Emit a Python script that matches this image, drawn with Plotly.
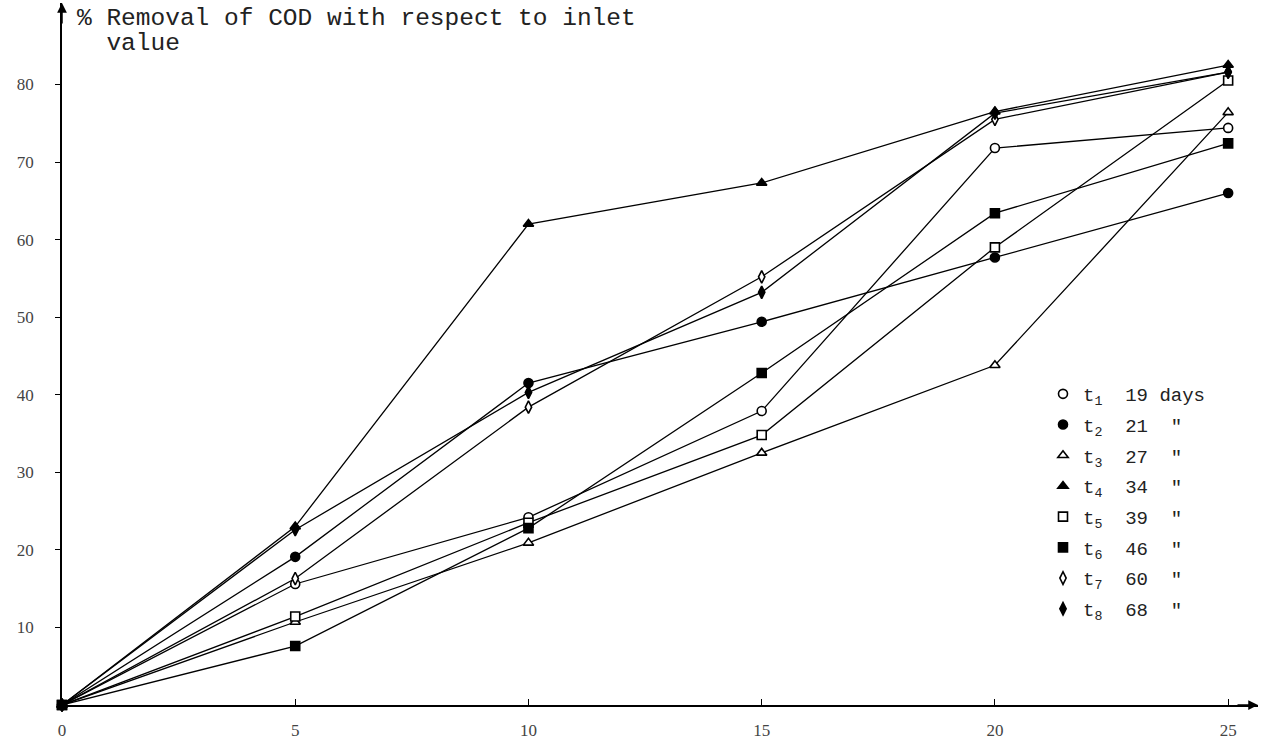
import plotly.graph_objects as go

days = [0, 5, 10, 15, 20, 25]
t1 = [0, 15.6, 24.2, 37.9, 71.8, 74.4]
t2 = [0, 19.1, 41.5, 49.4, 57.7, 66.0]
t3 = [0, 10.7, 20.9, 32.5, 43.8, 76.4]
t4 = [0, 23.0, 62.0, 67.3, 76.5, 82.5]
t5 = [0, 11.4, 23.5, 34.8, 59.0, 80.5]
t6 = [0, 7.6, 22.8, 42.8, 63.4, 72.4]
t7 = [0, 16.3, 38.4, 55.2, 75.5, 81.6]
t8 = [0, 22.6, 40.3, 53.2, 76.3, 81.6]

series = [t1, t2, t3, t4, t5, t6, t7, t8]
labels = ["t<sub>1</sub>", "t<sub>2</sub>", "t<sub>3</sub>", "t<sub>4</sub>",
          "t<sub>5</sub>", "t<sub>6</sub>", "t<sub>7</sub>", "t<sub>8</sub>"]
retention = ["19", "21", "27", "34", "39", "46", "60", "68"]
units = ["days", '"', '"', '"', '"', '"', '"', '"']
symbols = ["circle", "circle", "triangle-up", "triangle-up",
           "square", "square", "diamond-tall", "diamond-tall"]
filled = [False, True, False, True, False, True, False, True]

xticks = [0, 5, 10, 15, 20, 25]
yticks = [10, 20, 30, 40, 50, 60, 70, 80]

NB = "\u00a0"


def marker(i):
    return dict(symbol=symbols[i], size=9,
                color="black" if filled[i] else "white",
                line=dict(color="black", width=1.6))


fig = go.Figure()
for i, ys in enumerate(series):
    fig.add_trace(go.Scatter(
        x=days, y=ys, mode="lines+markers",
        line=dict(color="black", width=1.3),
        marker=marker(i), showlegend=False, cliponaxis=False,
    ))

for i in range(len(series)):
    if i == 0:
        name = labels[i] + NB * 2 + retention[i] + NB + units[i]
    else:
        name = labels[i] + NB * 2 + retention[i] + NB * 2 + units[i]
    fig.add_trace(go.Scatter(
        x=[None], y=[None], mode="markers", name=name,
        legendgroup=f"g{i}", marker=marker(i),
    ))

W, H = 1266, 746
L, R, T, B = 62, 8, 3, 41
PW, PH = W - L - R, H - T - B


def px(xp):
    return (xp - L) / PW


def py(yp):
    return 1 - (yp - T) / PH


fig.update_layout(
    width=W, height=H,
    margin=dict(l=L, r=R, t=T, b=B),
    paper_bgcolor="white", plot_bgcolor="white",
    showlegend=True,
    legend=dict(x=px(1043), y=py(375), xanchor="left", yanchor="top",
                bgcolor="rgba(0,0,0,0)", tracegroupgap=3,
                font=dict(family="Liberation Mono", size=19, color="#222"),
                itemwidth=30),
    xaxis=dict(range=[0, 25.64], tickvals=xticks, ticktext=[str(v) for v in xticks],
               showgrid=False, zeroline=False, showline=True, linecolor="black",
               linewidth=1.5, ticks="inside", ticklen=6, tickcolor="black",
               ticklabelstandoff=9,
               tickfont=dict(family="Liberation Serif", size=17, color="#444")),
    yaxis=dict(range=[0, 90.5], tickvals=yticks, ticktext=[str(v) for v in yticks],
               showgrid=False, zeroline=False, showline=True, linecolor="black",
               linewidth=1.5, ticks="outside", ticklen=5, tickcolor="black",
               ticklabelstandoff=18,
               tickfont=dict(family="Liberation Serif", size=17, color="#444")),
    annotations=[
        dict(xref="paper", yref="paper", x=0, y=1, ax=0, ay=22, text="",
             showarrow=True, arrowhead=2, arrowsize=1.3, arrowwidth=1.5, arrowcolor="black"),
        dict(xref="paper", yref="paper", x=1, y=0, ax=-22, ay=0, text="",
             showarrow=True, arrowhead=2, arrowsize=1.3, arrowwidth=1.5, arrowcolor="black"),
        dict(xref="paper", yref="paper", x=px(75), y=py(18),
             xanchor="left", yanchor="middle", showarrow=False,
             text="% Removal of COD with respect to inlet",
             font=dict(family="Liberation Mono", size=24.5, color="#222")),
        dict(xref="paper", yref="paper", x=px(75), y=py(44),
             xanchor="left", yanchor="middle", showarrow=False,
             text=NB * 2 + "value",
             font=dict(family="Liberation Mono", size=24.5, color="#222")),
    ],
)

fig.write_html("out.html", config={"displayModeBar": False},
               post_script="document.body.style.margin='0';")
